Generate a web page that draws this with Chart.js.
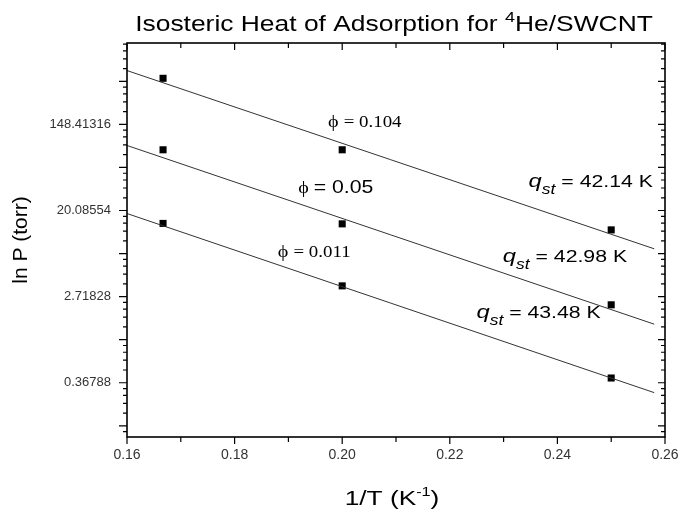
<!DOCTYPE html>
<html lang="en">
<head>
<meta charset="UTF-8">
<title>Isosteric Heat of Adsorption</title>
<style>
    body { margin: 0; background: #fff; }
    #wrap { width: 680px; height: 509px; }
</style>
</head>
<body>
<div id="wrap"><canvas id="myChart" width="680" height="509"></canvas></div>
<script src="https://cdn.jsdelivr.net/npm/chart.js"></script>
<script>
    // 1/T (K^-1) for the three temperatures
    var invT = [0.1667, 0.20, 0.25];
    // ln P, one list per coverage
    var lnP104 = [6.07, 4.41, 2.55];
    var lnP050 = [4.41, 2.69, 0.81];
    var lnP011 = [2.70, 1.25, -0.89];
    // the fitted lines, read at both ends
    var fitX = [0.16, 0.258];
    var fit104 = [6.25, 2.11];
    var fit050 = [4.51, 0.36];
    var fit011 = [2.93, -1.23];
    // axis ticks
    var xTickValues = [0.16, 0.18, 0.20, 0.22, 0.24, 0.26];
    var yTickValues = [-1, 1, 3, 5];
    var yTickLabels = ['0.36788', '2.71828', '20.08554', '148.41316'];
    // texts on the plot
    var coverLabels = ['= 0.104', '= 0.05', '= 0.011'];
    var qstLabels = ['= 42.14 K', '= 42.98 K', '= 43.48 K'];

    var SANS = '"Liberation Sans", Arial, sans-serif';
    var SERIF = '"Liberation Serif", "Times New Roman", serif';

    function pts(xs, ys) {
        return ys.map(function (y, i) { return { x: xs[i], y: y }; });
    }

    // draws a row of text pieces centred on cx, baseline by, stretched by sx
    function drawRuns(c, runs, cx, by, sx) {
        var w = 0;
        runs.forEach(function (r) { c.font = r.f; r.w = c.measureText(r.t).width; w += r.w; });
        c.save();
        c.translate(cx, by);
        c.scale(sx, 1);
        c.fillStyle = '#000';
        c.textBaseline = 'alphabetic';
        c.textAlign = 'left';
        var x = -w / 2;
        runs.forEach(function (r) {
            c.font = r.f;
            c.fillText(r.t, x, r.dy || 0);
            x += r.w;
        });
        c.restore();
    }

    var frame = {
        id: 'frame',
        afterDraw: function (chart) {
            var c = chart.ctx, a = chart.chartArea;
            var xs = chart.scales.x, ys = chart.scales.y;
            c.save();
            c.strokeStyle = '#000';
            c.lineWidth = 1.2;
            c.beginPath();
            for (var i = 0; i <= 10; i++) {
                var px = xs.getPixelForValue((16 + i) / 100);
                var len = i % 2 === 0 ? 7 : 5;
                c.moveTo(px, a.bottom); c.lineTo(px, a.bottom + len);
                c.moveTo(px, a.top); c.lineTo(px, a.top + len);
            }
            for (var k = -3; k <= 7; k++) {
                for (var j = 0; j < 5; j++) {
                    var v = k + Math.log(1 + (Math.E - 1) * j / 5);
                    if (v < ys.min || v > ys.max) continue;
                    var py = ys.getPixelForValue(v);
                    var l = j === 0 ? 8 : 4;
                    c.moveTo(a.left, py); c.lineTo(a.left - l, py);
                    c.moveTo(a.right, py); c.lineTo(a.right - (j === 0 ? 7 : 4), py);
                }
            }
            c.stroke();
            c.lineWidth = 1.6;
            c.strokeRect(a.left, a.top, a.right - a.left, a.bottom - a.top);
            c.restore();
        }
    };

    // where the texts sit, in data units (x centre, baseline ln P)
    var phiAt = [[0.2042, 4.95], [0.1988, 3.41], [0.1948, 1.93]];
    var qstAt = [[0.2462, 3.55], [0.2414, 1.81], [0.2365, 0.50]];

    var notes = {
        id: 'notes',
        afterDraw: function (chart) {
            var c = chart.ctx, xs = chart.scales.x, ys = chart.scales.y;
            var a = chart.chartArea;

            drawRuns(c, [
                { t: 'Isosteric Heat of Adsorption for ', f: '22px ' + SANS },
                { t: '4', f: '15px ' + SANS, dy: -9 },
                { t: 'He/SWCNT', f: '22px ' + SANS }
            ], 394, 31, 1.2);

            drawRuns(c, [
                { t: '1/T (K', f: '21px ' + SANS },
                { t: '-1', f: '13px ' + SANS, dy: -9 },
                { t: ')', f: '21px ' + SANS }
            ], 392, 505, 1.25);

            c.save();
            c.translate(20, (a.top + a.bottom) / 2);
            c.rotate(-Math.PI / 2);
            drawRuns(c, [{ t: 'ln P (torr)', f: '21px ' + SANS }], 0, 7, 1);
            c.restore();

            for (var i = 0; i < 3; i++) {
                var txtFont = i === 1 ? '18px ' + SANS : '16px ' + SERIF;
                drawRuns(c, [
                    { t: '\u03D5 ', f: '17px ' + SERIF },
                    { t: coverLabels[i], f: txtFont }
                ], xs.getPixelForValue(phiAt[i][0]), ys.getPixelForValue(phiAt[i][1]), 1.18);

                drawRuns(c, [
                    { t: 'q', f: 'italic 19px ' + SANS },
                    { t: 'st', f: 'italic 14px ' + SANS, dy: 7 },
                    { t: ' ' + qstLabels[i], f: '17px ' + SANS }
                ], xs.getPixelForValue(qstAt[i][0]), ys.getPixelForValue(qstAt[i][1]), 1.25);
            }
        }
    };

    var pointStyle = { pointStyle: 'rect', pointRadius: 5, backgroundColor: '#000', borderWidth: 0, showLine: false };
    var lineStyle = { showLine: true, pointRadius: 0, borderColor: '#333', borderWidth: 1, fill: false };

    const ctx = document.getElementById('myChart');

    new Chart(ctx, {
        type: 'scatter',
        data: {
            datasets: [
                Object.assign({ label: 'fit 0.104', data: pts(fitX, fit104) }, lineStyle),
                Object.assign({ label: 'fit 0.05', data: pts(fitX, fit050) }, lineStyle),
                Object.assign({ label: 'fit 0.011', data: pts(fitX, fit011) }, lineStyle),
                Object.assign({ label: '0.104', data: pts(invT, lnP104) }, pointStyle),
                Object.assign({ label: '0.05', data: pts(invT, lnP050) }, pointStyle),
                Object.assign({ label: '0.011', data: pts(invT, lnP011) }, pointStyle)
            ]
        },
        options: {
            responsive: false,
            animation: false,
            layout: { padding: { top: 43, right: 15, left: 0, bottom: 0 } },
            plugins: {
                legend: { display: false },
                tooltip: { enabled: false }
            },
            scales: {
                x: {
                    type: 'linear',
                    min: 0.16,
                    max: 0.26,
                    afterFit: function (s) {
                        s.height = 72;
                        s.paddingLeft = 0;
                        s.paddingRight = 0;
                    },
                    afterBuildTicks: function (s) {
                        s.ticks = xTickValues.map(function (v) { return { value: v }; });
                    },
                    ticks: {
                        callback: function (v) { return v.toFixed(2); },
                        padding: 10,
                        maxRotation: 0,
                        autoSkip: false,
                        color: '#333',
                        font: { family: SANS, size: 14 }
                    },
                    grid: { drawOnChartArea: false, drawTicks: false },
                    border: { display: false }
                },
                y: {
                    type: 'linear',
                    min: -2.26,
                    max: 6.89,
                    afterFit: function (s) { s.width = 127; },
                    afterBuildTicks: function (s) {
                        s.ticks = yTickValues.map(function (v) { return { value: v }; });
                    },
                    ticks: {
                        callback: function (v) {
                            var i = yTickValues.indexOf(v);
                            return i < 0 ? '' : yTickLabels[i];
                        },
                        padding: 16,
                        color: '#333',
                        font: { family: SANS, size: 13 }
                    },
                    grid: { drawOnChartArea: false, drawTicks: false },
                    border: { display: false }
                }
            }
        },
        plugins: [frame, notes]
    });
</script>
</body>
</html>
